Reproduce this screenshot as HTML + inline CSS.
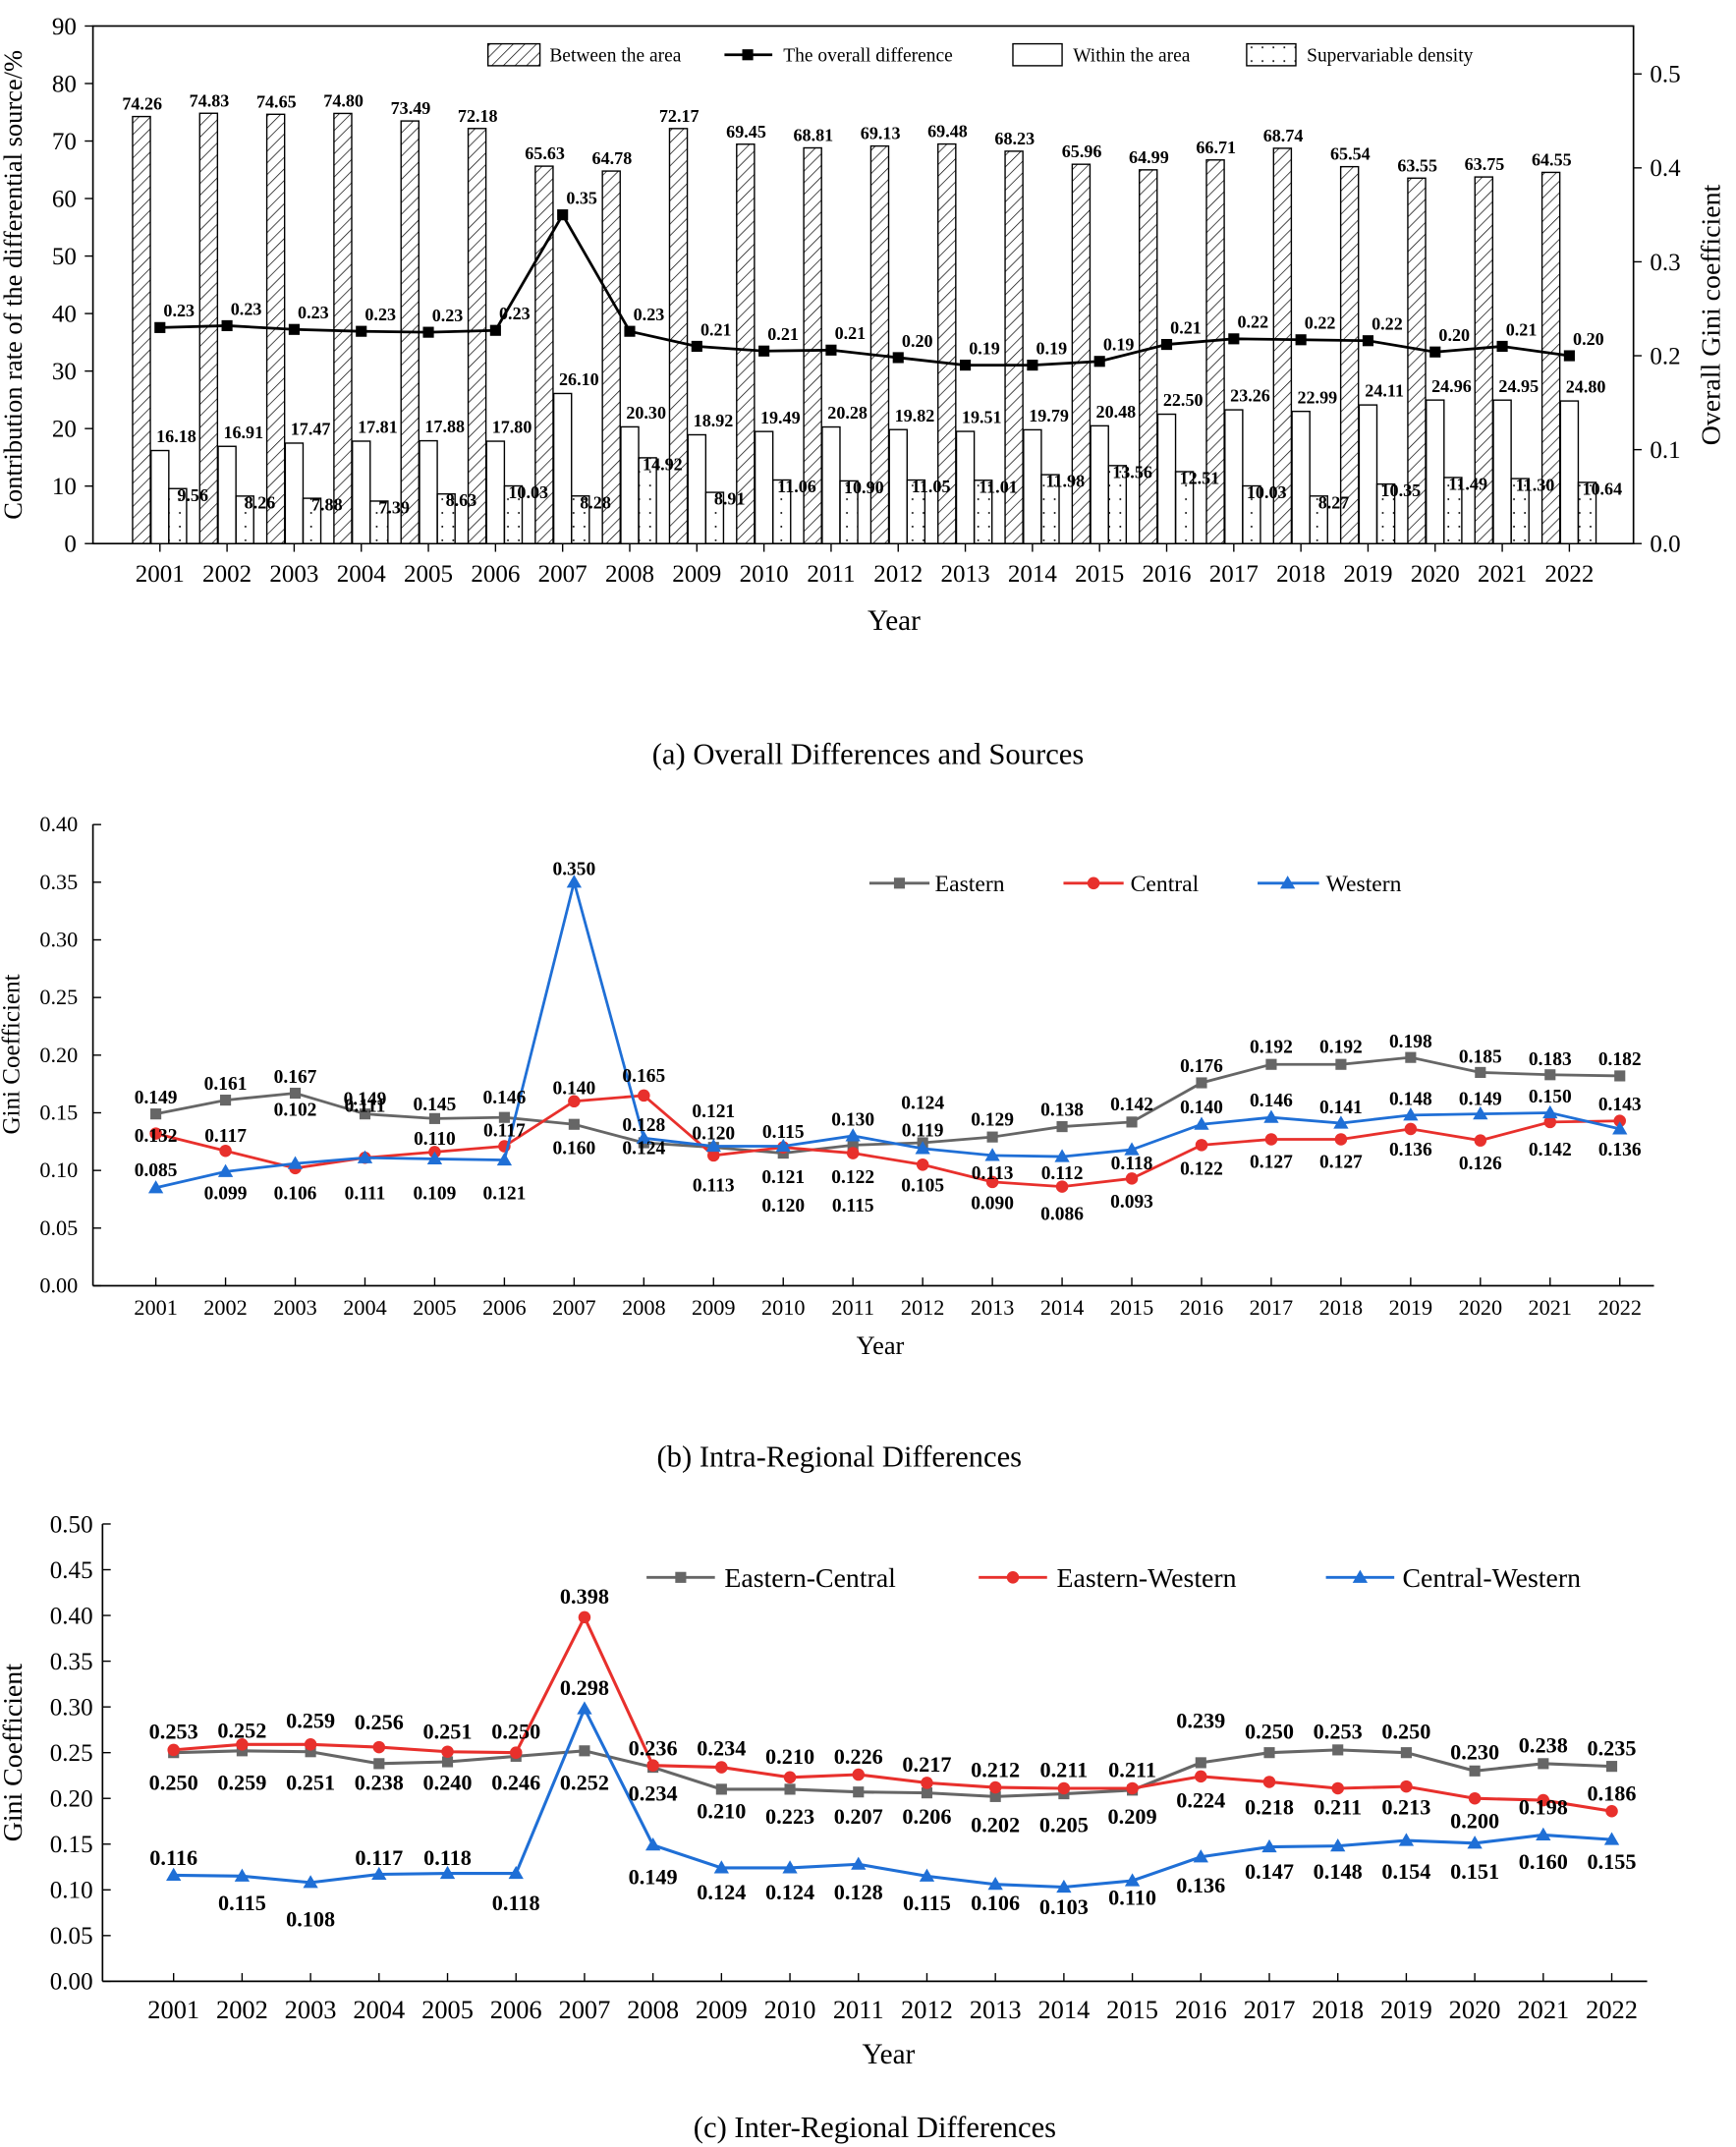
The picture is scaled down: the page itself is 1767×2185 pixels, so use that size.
<!DOCTYPE html>
<html><head><meta charset="utf-8">
<style>
html,body{margin:0;padding:0;background:#fff;}
svg{display:block;}
text{font-family:"Liberation Serif",serif;fill:#000;}
.b{font-weight:bold;}
</style></head>
<body>
<svg id="s" width="1767" height="2185" viewBox="0 0 1270 1568" preserveAspectRatio="none" xmlns="http://www.w3.org/2000/svg">
<defs>
<pattern id="hatch" patternUnits="userSpaceOnUse" width="6" height="6" patternTransform="rotate(45)">
<line x1="0" y1="0" x2="0" y2="6" stroke="#000" stroke-width="1"/>
</pattern>
<pattern id="dots" patternUnits="userSpaceOnUse" width="8" height="10">
<rect x="3" y="4" width="1.2" height="1.2" fill="#000"/>
</pattern>
</defs>
<g id="g"></g>
</svg>
<script>
var out=[];
function T(x,y,t,sz,anc,cls,extra){out.push('<text x="'+x+'" y="'+y+'" font-size="'+sz+'" text-anchor="'+(anc||'middle')+'" '+(cls?'class="'+cls+'" ':'')+(extra||'')+'>'+t+'</text>');}
function L(x1,y1,x2,y2,c,w){out.push('<line x1="'+x1+'" y1="'+y1+'" x2="'+x2+'" y2="'+y2+'" stroke="'+(c||'#000')+'" stroke-width="'+(w||1)+'"/>');}
function R(x,y,w,h,f){out.push('<rect x="'+x+'" y="'+y+'" width="'+w+'" height="'+h+'" fill="'+f+'" stroke="#000" stroke-width="1"/>');}
function P(pts,c,w){out.push('<polyline points="'+pts.map(function(p){return p[0]+','+p[1]}).join(' ')+'" fill="none" stroke="'+c+'" stroke-width="'+w+'"/>');}
function marker(t,x,y,c){if(t=='s')out.push('<rect x="'+(x-4)+'" y="'+(y-4)+'" width="8" height="8" fill="'+c+'"/>');
 else if(t=='c')out.push('<circle cx="'+x+'" cy="'+y+'" r="4.5" fill="'+c+'"/>');
 else out.push('<polygon points="'+x+','+(y-5.5)+' '+(x-5.5)+','+(y+4)+' '+(x+5.5)+','+(y+4)+'" fill="'+c+'"/>');}
var years=[];for(var i=2001;i<=2022;i++)years.push(i);

// ---------- (a) ----------
var bw=[74.26,74.83,74.65,74.80,73.49,72.18,65.63,64.78,72.17,69.45,68.81,69.13,69.48,68.23,65.96,64.99,66.71,68.74,65.54,63.55,63.75,64.55];
var wi=[16.18,16.91,17.47,17.81,17.88,17.80,26.10,20.30,18.92,19.49,20.28,19.82,19.51,19.79,20.48,22.50,23.26,22.99,24.11,24.96,24.95,24.80];
var sv=[9.56,8.26,7.88,7.39,8.63,10.03,8.28,14.92,8.91,11.06,10.90,11.05,11.01,11.98,13.56,12.51,10.03,8.27,10.35,11.49,11.30,10.64];
var ov=[0.23,0.232,0.228,0.226,0.225,0.227,0.35,0.226,0.21,0.205,0.206,0.198,0.19,0.19,0.194,0.212,0.218,0.217,0.216,0.204,0.21,0.20];
var ovl=['0.23','0.23','0.23','0.23','0.23','0.23','0.35','0.23','0.21','0.21','0.21','0.20','0.19','0.19','0.19','0.21','0.22','0.22','0.22','0.20','0.21','0.20'];
var ya=function(v){return 397-v*4.2;}, yr=function(v){return 397-v*686;};
var xa=function(i){return 117+i*49.1;};
out.push('<rect x="68" y="19" width="1127" height="378" fill="none" stroke="#000" stroke-width="1.2"/>');
for(var v=0;v<=90;v+=10){var y=ya(v);L(62,y,68,y);T(56,y+6,v,18,'end');}
for(var v=0;v<=5;v++){var y=yr(v/10);L(1195,y,1201,y);T(1207,y+6,(v/10).toFixed(1),18,'start');}
for(var i=0;i<22;i++){var c=xa(i);L(c,397,c,403);
 R(c-20,ya(bw[i]),13,397-ya(bw[i]),'url(#hatch)');
 R(c-6.5,ya(wi[i]),13,397-ya(wi[i]),'#fff');
 R(c+6.5,ya(sv[i]),13,397-ya(sv[i]),'url(#dots)');
 T(c-13,ya(bw[i])-5,bw[i].toFixed(2),13,'middle','b');
 T(c+12,ya(wi[i])-6,wi[i].toFixed(2),13,'middle','b');
 T(c+24,ya(sv[i])+9,sv[i].toFixed(2),13,'middle','b');
 T(c,425,years[i],18);}
var pa=ov.map(function(v,i){return [xa(i),yr(v)];});
P(pa,'#000',2);pa.forEach(function(p,i){marker('s',p[0],p[1],'#000');T(p[0]+14,p[1]-8,ovl[i],13,'middle','b');});
T(654,460,'Year',21);
T(16,208,'Contribution rate of the differential source/%',19,'middle','','transform="rotate(-90 16 208)"');
T(1258,230,'Overall Gini coefficient',20,'middle','','transform="rotate(-90 1258 230)"');
R(357,32,38,16,'url(#hatch)');T(402,45,'Between the area',14,'start');
L(530,40,565,40,'#000',2);marker('s',547,40,'#000');T(573,45,'The overall difference',14,'start');
R(741,32,36,16,'#fff');T(785,45,'Within the area',14,'start');
R(912,32,36,16,'url(#dots)');T(956,45,'Supervariable density',14,'start');
T(635,558,'(a) Overall Differences and Sources',22);

// ---------- (b) ----------
var E=[.149,.161,.167,.149,.145,.146,.140,.124,.120,.115,.122,.124,.129,.138,.142,.176,.192,.192,.198,.185,.183,.182];
var C=[.132,.117,.102,.111,.116,.121,.160,.165,.113,.120,.115,.105,.090,.086,.093,.122,.127,.127,.136,.126,.142,.143];
var W=[.085,.099,.106,.111,.110,.109,.350,.128,.121,.121,.130,.119,.113,.112,.118,.140,.146,.141,.148,.149,.150,.136];
var yb=function(v){return 939-v*842;}, xb=function(i){return 114+i*51;};
L(68,602,68,939,'#000',1.2);L(68,939,1210,939,'#000',1.2);
for(var k=0;k<=8;k++){var y=yb(k*0.05);L(68,y,74,y);T(57,y+5,(k*0.05).toFixed(2),16,'end');}
for(var i=0;i<22;i++){L(xb(i),939,xb(i),933);T(xb(i),960,years[i],16);}
[[E,'#666','s'],[C,'#e8302c','c'],[W,'#1f6fd6','t']].forEach(function(s){
 var p=s[0].map(function(v,i){return [xb(i),yb(v)];});P(p,s[1],2);p.forEach(function(q){marker(s[2],q[0],q[1],s[1]);});});
var lb=[[['0.149',801],['0.132',829],['0.085',854]],[['0.161',791],['0.117',829],['0.099',871]],[['0.167',786],['0.102',810],['0.106',871]],[['0.149',802],['0.111',807],['0.111',871]],[['0.145',806],['0.110',831],['0.109',871]],[['0.146',801],['0.117',825],['0.121',871]],[['0.350',634],['0.140',794],['0.160',838]],[['0.165',785],['0.128',821],['0.124',838]],[['0.121',811],['0.120',827],['0.113',865]],[['0.115',826],['0.121',859],['0.120',880]],[['0.130',817],['0.122',859],['0.115',880]],[['0.124',805],['0.119',825],['0.105',865]],[['0.129',817],['0.113',856],['0.090',878]],[['0.138',810],['0.112',856],['0.086',886]],[['0.142',806],['0.118',849],['0.093',877]],[['0.176',778],['0.140',808],['0.122',853]],[['0.192',764],['0.146',803],['0.127',848]],[['0.192',764],['0.141',808],['0.127',848]],[['0.198',760],['0.148',802],['0.136',839]],[['0.185',771],['0.149',802],['0.126',849]],[['0.183',773],['0.150',800],['0.142',839]],[['0.182',773],['0.143',806],['0.136',839]]];
lb.forEach(function(a,i){a.forEach(function(l){T(xb(i),l[1]+5,l[0],14,'middle','b');});});
T(644,989,'Year',19);
T(14,770,'Gini Coefficient',18,'middle','','transform="rotate(-90 14 770)"');
L(636,645,680,645,'#666',2);marker('s',658,645,'#666');T(684,651,'Eastern',17,'start');
L(778,645,822,645,'#e8302c',2);marker('c',800,645,'#e8302c');T(827,651,'Central',17,'start');
L(920,645,965,645,'#1f6fd6',2);marker('t',942,645,'#1f6fd6');T(970,651,'Western',17,'start');
T(614,1071,'(b) Intra-Regional Differences',22);

// ---------- (c) ----------
var EC=[.250,.252,.251,.238,.240,.246,.252,.234,.210,.210,.207,.206,.202,.205,.209,.239,.250,.253,.250,.230,.238,.235];
var EW=[.253,.259,.259,.256,.251,.250,.398,.236,.234,.223,.226,.217,.212,.211,.211,.224,.218,.211,.213,.200,.198,.186];
var CW=[.116,.115,.108,.117,.118,.118,.298,.149,.124,.124,.128,.115,.106,.103,.110,.136,.147,.148,.154,.151,.160,.155];
var yc=function(v){return 1447-v*668;}, xc=function(i){return 127+i*50.1;};
L(75,1113,75,1447,'#000',1.2);L(75,1447,1205,1447,'#000',1.2);
for(var k=0;k<=10;k++){var y=yc(k*0.05);L(75,y,81,y);T(68,y+6,(k*0.05).toFixed(2),18,'end');}
for(var i=0;i<22;i++){L(xc(i),1447,xc(i),1441);T(xc(i),1474,years[i],19);}
[[EC,'#666','s'],[EW,'#e8302c','c'],[CW,'#1f6fd6','t']].forEach(function(s){
 var p=s[0].map(function(v,i){return [xc(i),yc(v)];});P(p,s[1],2.2);p.forEach(function(q){marker(s[2],q[0],q[1],s[1]);});});
var lc=[[['0.253',1265],['0.250',1302],['0.116',1357]],[['0.252',1264],['0.259',1302],['0.115',1390]],[['0.259',1257],['0.251',1302],['0.108',1402]],[['0.256',1258],['0.238',1302],['0.117',1357]],[['0.251',1265],['0.240',1302],['0.118',1357]],[['0.250',1265],['0.246',1302],['0.118',1390]],[['0.398',1166],['0.298',1233],['0.252',1302]],[['0.236',1277],['0.234',1310],['0.149',1371]],[['0.234',1277],['0.210',1323],['0.124',1382]],[['0.210',1283],['0.223',1327],['0.124',1382]],[['0.226',1283],['0.207',1327],['0.128',1382]],[['0.217',1289],['0.206',1327],['0.115',1390]],[['0.212',1293],['0.202',1333],['0.106',1390]],[['0.211',1293],['0.205',1333],['0.103',1393]],[['0.211',1293],['0.209',1327],['0.110',1386]],[['0.239',1257],['0.224',1315],['0.136',1377]],[['0.250',1265],['0.218',1320],['0.147',1367]],[['0.253',1265],['0.211',1320],['0.148',1367]],[['0.250',1265],['0.213',1320],['0.154',1367]],[['0.230',1280],['0.200',1330],['0.151',1367]],[['0.238',1275],['0.198',1320],['0.160',1360]],[['0.235',1277],['0.186',1310],['0.155',1360]]];
lc.forEach(function(a,i){a.forEach(function(l){T(xc(i),l[1]+5,l[0],16,'middle','b');});});
T(650,1507,'Year',21);
T(16,1280,'Gini Coefficient',20,'middle','','transform="rotate(-90 16 1280)"');
L(473,1152,523,1152,'#666',2);marker('s',498,1152,'#666');T(530,1159,'Eastern-Central',20,'start');
L(716,1152,766,1152,'#e8302c',2);marker('c',741,1152,'#e8302c');T(773,1159,'Eastern-Western',20,'start');
L(970,1152,1020,1152,'#1f6fd6',2);marker('t',995,1152,'#1f6fd6');T(1026,1159,'Central-Western',20,'start');
T(640,1561,'(c) Inter-Regional Differences',22);

document.getElementById('g').innerHTML=out.join('');
</script>
</body></html>
